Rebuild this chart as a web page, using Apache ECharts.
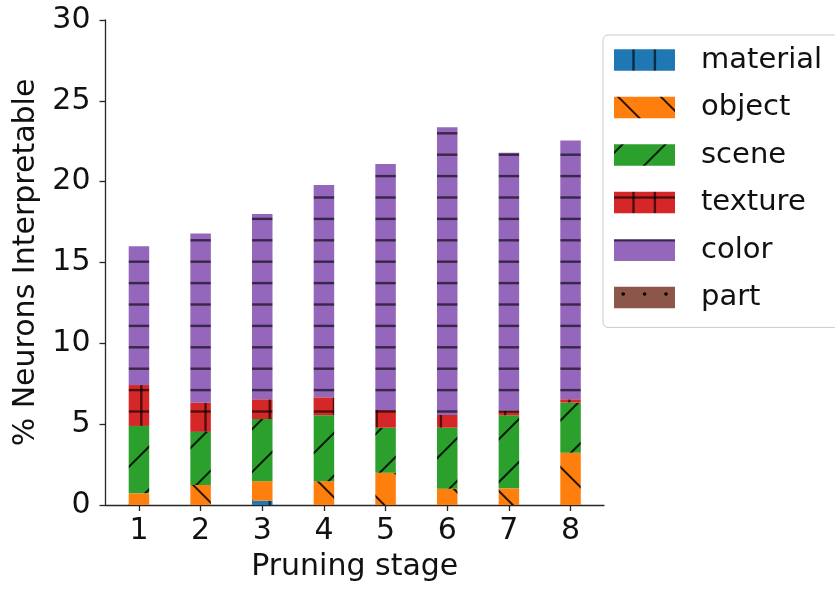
<!DOCTYPE html>
<html>
<head>
<meta charset="utf-8">
<script src="https://cdn.jsdelivr.net/npm/echarts@6/dist/echarts.min.js"></script>
<style>
  html, body { margin: 0; padding: 0; background: #ffffff; }
  #chart { width: 835px; height: 590px; }
</style>
</head>
<body>
<div id="chart"></div>
<script>
// Pruning stages on the x axis
const stages = [1, 2, 3, 4, 5, 6, 7, 8];
const yTicks = [0, 5, 10, 15, 20, 25, 30];

// Percentage of interpretable neurons per concept type (stacked segments)
const material = [0, 0, 0.27, 0, 0, 0, 0, 0];
const object   = [0.72, 1.24, 1.20, 1.47, 2.00, 1.01, 1.03, 3.23];
const scene    = [4.17, 3.29, 3.85, 4.08, 2.78, 3.77, 4.52, 3.10];
const texture  = [2.53, 1.80, 1.22, 1.11, 1.10, 0.79, 0.28, 0.21];
const color    = [8.58, 10.47, 11.46, 13.14, 15.22, 17.79, 15.96, 16.01];
const part     = [0, 0, 0, 0, 0, 0, 0, 0];

const seriesNames = ['material', 'object', 'scene', 'texture', 'color', 'part'];
const seriesValues = [material, object, scene, texture, color, part];
const fills = ['#1f77b4', '#ff7f0e', '#2ca02c', '#d62728', '#9467bd', '#8c564b'];

// ---- hatch tiles (anchored to the canvas origin) ----
const STEP = 21.4;          // spacing of straight hatch lines
const DIAG = 42.8;          // spacing of diagonal hatch lines
const LINE = 'rgba(0,0,0,0.62)';
const DARK = 'rgba(0,0,0,0.85)';

function makeTile(size, base, draw) {
  const c = document.createElement('canvas');
  c.width = size; c.height = size;
  const ctx = c.getContext('2d');
  ctx.fillStyle = base;
  ctx.fillRect(0, 0, size, size);
  draw(ctx, size);
  return c;
}
function hLines(ctx, size) {
  ctx.fillStyle = LINE;
  for (let y = 4.9; y < size; y += STEP) ctx.fillRect(0, y - 1.2, size, 2.4);
}
function vLines(ctx, size) {
  ctx.fillStyle = LINE;
  for (let x = 12.9; x < size; x += STEP) ctx.fillRect(x - 1.2, 0, 2.4, size);
}
function slash(ctx, size) {        // lines x + y = c
  ctx.strokeStyle = DARK; ctx.lineWidth = 2;
  for (let c = 39.3 - DIAG; c < 2 * size + DIAG; c += DIAG) {
    ctx.beginPath(); ctx.moveTo(c + 5, -5); ctx.lineTo(-5, c + 5); ctx.stroke();
  }
}
function backslash(ctx, size) {    // lines y - x = c
  ctx.strokeStyle = DARK; ctx.lineWidth = 2;
  for (let c = 35 - 6 * DIAG; c < size + DIAG; c += DIAG) {
    ctx.beginPath(); ctx.moveTo(-5, c - 5); ctx.lineTo(size + 5, c + size + 5); ctx.stroke();
  }
}
function dots(ctx, size) {
  ctx.fillStyle = '#000';
  for (let y = 15.8; y < size; y += STEP) {
    for (let x = 2.6; x < size; x += STEP) {
      ctx.beginPath(); ctx.arc(x, y, 1.8, 0, Math.PI * 2); ctx.fill();
    }
  }
}

const tiles = [
  makeTile(107, fills[0], vLines),
  makeTile(214, fills[1], backslash),
  makeTile(214, fills[2], slash),
  makeTile(107, fills[3], (ctx, s) => { hLines(ctx, s); vLines(ctx, s); }),
  makeTile(107, fills[4], hLines),
  makeTile(107, fills[5], dots)
];

function pattern(i, dx, dy) {
  return { image: tiles[i], repeat: 'repeat', x: dx || 0, y: dy || 0 };
}

// legend swatches sit inside translated groups; shift their tiles back to canvas space
const legendIconX = 614, legendIconY = 49.3, legendRow = 47.5;

const FONT = 'DejaVu Sans';
const TEXT = '#111111';
const AXIS = '#262626';
const AXIS_FONT = 30;

const chart = echarts.init(document.getElementById('chart'), null, { renderer: 'canvas' });

chart.setOption({
  animation: false,
  backgroundColor: '#ffffff',
  textStyle: { fontFamily: FONT },
  grid: { left: 105.5, top: 20, width: 498.5, height: 485, containLabel: false },
  xAxis: {
    type: 'value',
    min: 0.4575,
    max: 8.5425,
    name: 'Pruning stage',
    nameLocation: 'middle',
    nameGap: 47,
    nameTextStyle: { fontSize: AXIS_FONT, color: TEXT, fontFamily: FONT },
    axisLine: { show: true, lineStyle: { color: AXIS, width: 1.3 } },
    axisTick: { show: true, length: 6, lineStyle: { color: AXIS, width: 1.3 }, customValues: stages },
    axisLabel: { fontSize: AXIS_FONT, color: TEXT, fontFamily: FONT, margin: 11, customValues: stages },
    splitLine: { show: false }
  },
  yAxis: {
    type: 'value',
    min: yTicks[0],
    max: yTicks[yTicks.length - 1],
    interval: 5,
    name: '% Neurons Interpretable',
    nameLocation: 'middle',
    nameGap: 63,
    nameRotate: 90,
    nameTextStyle: { fontSize: AXIS_FONT, color: TEXT, fontFamily: FONT },
    axisLine: { show: true, lineStyle: { color: AXIS, width: 1.3 } },
    axisTick: { show: true, length: 6, lineStyle: { color: AXIS, width: 1.3 } },
    axisLabel: { fontSize: AXIS_FONT, color: TEXT, fontFamily: FONT, margin: 15 },
    splitLine: { show: false }
  },
  legend: {
    orient: 'vertical',
    left: 603,
    top: 35,
    icon: 'rect',
    itemWidth: 61,
    itemHeight: 21.4,
    itemGap: 18.5,
    padding: [10.5, 20, 15.4, 11],
    backgroundColor: 'rgba(255,255,255,0.8)',
    borderColor: '#cccccc',
    borderWidth: 1,
    borderRadius: 5,
    selectedMode: false,
    textStyle: { fontSize: 29, color: TEXT, fontFamily: FONT, padding: [0, 0, 0, 21] },
    data: seriesNames.map((n, i) => ({
      name: n,
      itemStyle: { color: pattern(i, -legendIconX, -(legendIconY + i * legendRow)) }
    }))
  },
  // value first so the stack runs along the y dimension
  series: seriesNames.map((n, i) => ({
    name: n,
    type: 'bar',
    stack: 'total',
    barWidth: 20.5,
    encode: { x: 1, y: 0 },
    itemStyle: { color: pattern(i) },
    emphasis: { disabled: true },
    data: stages.map((s, k) => [seriesValues[i][k], s])
  }))
});
</script>
</body>
</html>
